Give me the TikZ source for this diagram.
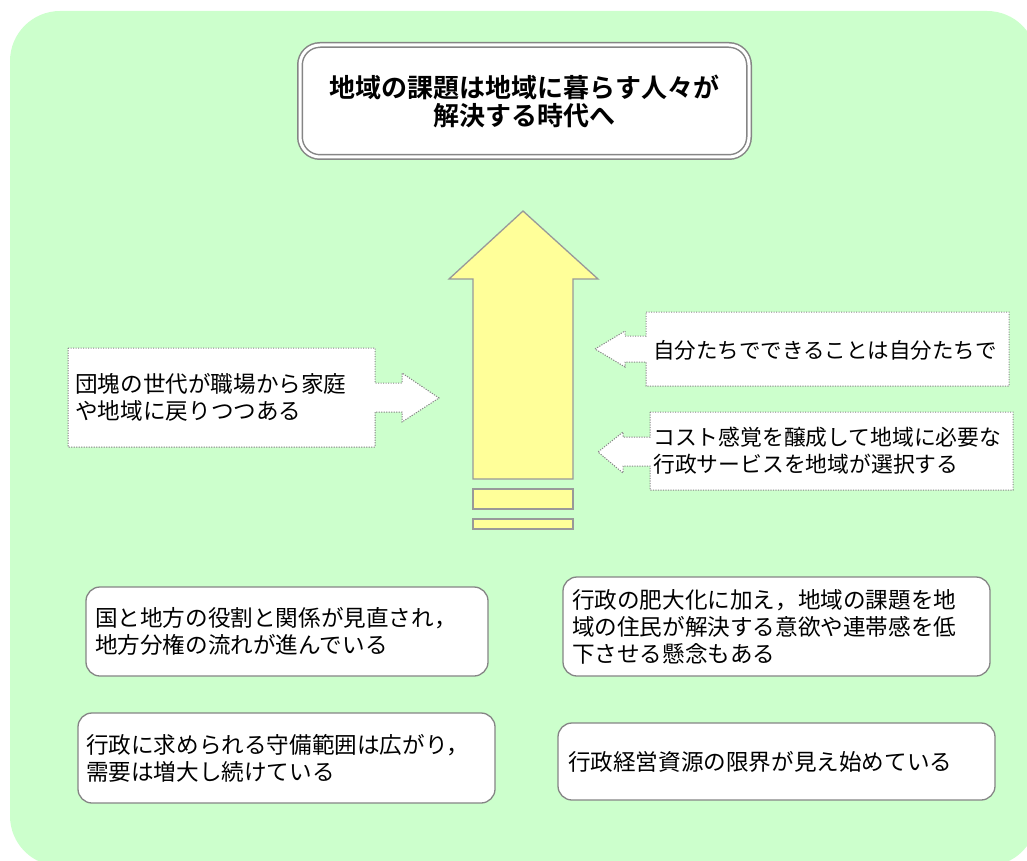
\documentclass[tikz,border=0pt]{standalone}
\usepackage{fontspec}
\setmainfont{Noto Sans CJK JP}[BoldFont={Noto Sans CJK JP Bold}]
\definecolor{bggreen}{HTML}{CCFFCC}
\definecolor{boxgray}{HTML}{858585}
\definecolor{arrowyellow}{HTML}{FFFF99}
\definecolor{arrowgray}{HTML}{999999}
\begin{document}
\begin{tikzpicture}[x=1pt,y=-1pt,
  note/.style={draw=boxgray,fill=white,line width=1.3pt,rounded corners=14pt,align=left,inner ysep=0pt,font=\fontsize{22.6}{27}\selectfont},
  callout/.style={draw=boxgray,fill=white,line width=1pt,dash pattern=on 1.2pt off 1.3pt},
  calltext/.style={anchor=west,align=left,inner sep=0pt,font=\fontsize{22.6}{27}\selectfont},
  bigarrow/.style={draw=arrowgray,fill=arrowyellow,line width=1.3pt}]
\useasboundingbox (0,0) rectangle (1027,861);
\fill[bggreen,rounded corners=50pt] (10,11) rectangle (1037,866);
\node[draw=boxgray,double=white,double distance=3pt,line width=1.5pt,fill=white,rounded corners=20pt,
  minimum width=449pt,minimum height=112pt,align=center,font=\fontsize{26}{28}\selectfont\bfseries] (goal) at (524.5,101)
  {地域の課題は地域に暮らす人々が\\解決する時代へ};
\draw[bigarrow] (473,479) -- (473,279) -- (449,279) -- (523,211) -- (598,279) -- (573,279) -- (573,479) -- cycle;
\draw[bigarrow] (473,489) rectangle (573,509);
\draw[bigarrow] (473,519) rectangle (573,529);
\draw[callout] (68,348) -- (375,348) -- (375,383) -- (402,383) -- (402,373) -- (439,398) -- (402,422) -- (402,412)
  -- (375,412) -- (375,447) -- (68,447) -- cycle;
\node[calltext] (dankai) at (75,397) {団塊の世代が職場から家庭\\や地域に戻りつつある};
\draw[callout] (646,312) -- (1009,312) -- (1009,386) -- (646,386) -- (646,362) -- (625,362) -- (625,367) -- (595,349)
  -- (625,331) -- (625,336) -- (646,336) -- cycle;
\node[calltext,font=\fontsize{21.5}{27}\selectfont] (jibun) at (653,350) {自分たちでできることは自分たちで};
\draw[callout] (650,412) -- (1013,412) -- (1013,490) -- (650,490) -- (650,466) -- (623,466) -- (623,473) -- (598,452)
  -- (623,432) -- (623,437) -- (650,437) -- cycle;
\node[calltext,font=\fontsize{21.8}{27}\selectfont] (cost) at (653,451) {コスト感覚を醸成して地域に必要な\\行政サービスを地域が選択する};
\node[note,inner xsep=9pt,text width=384pt,minimum height=89pt] (kuni) at (287,631.5)
  {国と地方の役割と関係が見直され，\\地方分権の流れが進んでいる};
\node[note,inner xsep=8pt,text width=401pt,minimum height=90pt] (shubi) at (286.5,758)
  {行政に求められる守備範囲は広がり，\\需要は増大し続けている};
\node[note,inner xsep=9pt,text width=409pt,minimum height=99pt] (hidai) at (776.5,626.5)
  {行政の肥大化に加え，地域の課題を地\\域の住民が解決する意欲や連帯感を低\\下させる懸念もある};
\node[note,inner xsep=10pt,text width=417pt,minimum height=77pt] (genkai) at (776.5,761.5)
  {行政経営資源の限界が見え始めている};
\end{tikzpicture}
\end{document}
